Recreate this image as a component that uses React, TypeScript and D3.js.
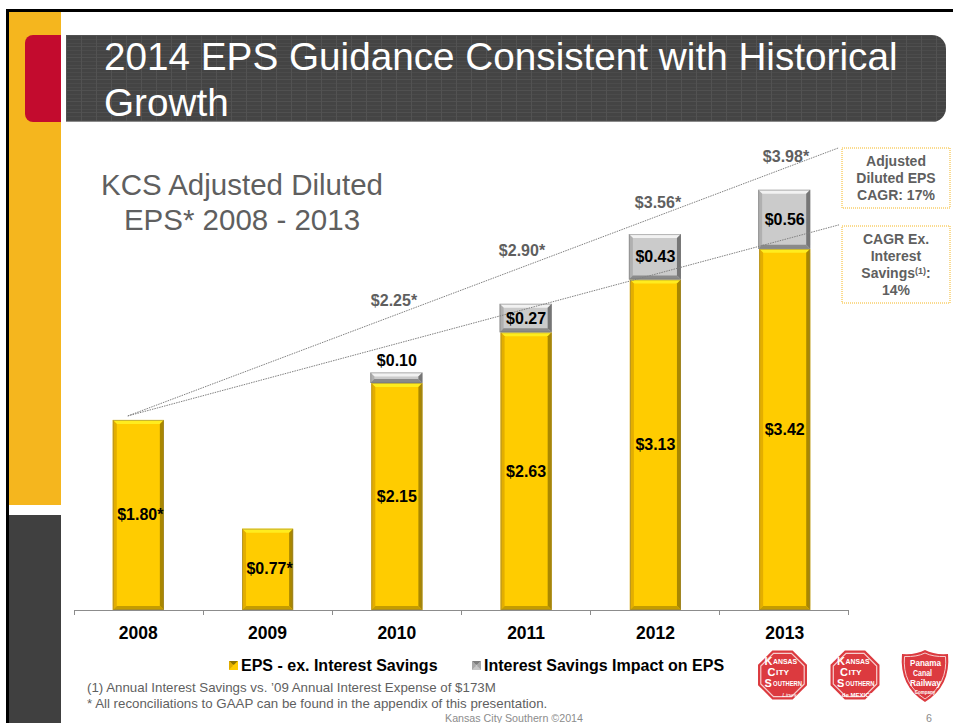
import React from "react";
import * as d3 from "d3";

const years = ["2008", "2009", "2010", "2011", "2012", "2013"];
const epsValues = [1.8, 0.77, 2.15, 2.63, 3.13, 3.42];
const savingsValues = [0, 0, 0.1, 0.27, 0.43, 0.56];
const epsLabels = ["$1.80*", "$0.77*", "$2.15", "$2.63", "$3.13", "$3.42"];
const savingsLabels = ["", "", "$0.10", "$0.27", "$0.43", "$0.56"];
const totalLabels = ["", "", "$2.25*", "$2.90*", "$3.56*", "$3.98*"];
const cagrTotal = [1.8, 3.98];
const cagrExInterest = [1.8, 3.42];

const F = "'Liberation Sans', Arial, sans-serif";
const x = d3.scaleBand<string>().domain(years).range([74, 849]).paddingInner(0.605).paddingOuter(0.3);
const y = d3.scaleLinear().domain([0, 4]).range([610, 187.6]);

function Bevel({ x0, y0, w, h, c, edge }: { x0: number; y0: number; w: number; h: number; c: any; edge?: string }) {
  const b = Math.min(4, h / 2.4);
  const x1 = x0 + w;
  const y1 = y0 + h;
  return (
    <g>
      <rect x={x0} y={y0} width={w} height={h} fill={c.face} />
      <polygon points={`${x0},${y0} ${x1},${y0} ${x1 - b},${y0 + b} ${x0 + b},${y0 + b}`} fill={c.top} />
      <polygon points={`${x0},${y0} ${x0 + b},${y0 + b} ${x0 + b},${y1 - b} ${x0},${y1}`} fill={c.left} />
      <polygon points={`${x1},${y0} ${x1},${y1} ${x1 - b},${y1 - b} ${x1 - b},${y0 + b}`} fill={c.right} />
      <polygon points={`${x0},${y1} ${x1},${y1} ${x1 - b},${y1 - b} ${x0 + b},${y1 - b}`} fill={c.bottom} />
      {edge && <rect x={x0 + 0.5} y={y0 + 0.5} width={w - 1} height={h - 1} fill="none" stroke={edge} strokeWidth={1} />}
    </g>
  );
}

const gold = { face: "#FFCC00", top: "#FFEC1E", left: "#E3AE00", right: "#A98700", bottom: "#C49C00" };
const silver = { face: "#CBCBCB", top: "#F2F2F2", left: "#B0B0B0", right: "#767676", bottom: "#8A8A8A" };

function LogoLine({ lx, ly, cap, rest, len }: { lx: number; ly: number; cap: string; rest: string; len: number }) {
  const cs = 11;
  return (
    <g>
      <text x={lx} y={ly} fontSize={cs}>{cap}</text>
      <text x={lx + cs * 0.78} y={ly - 1} fontSize={6.5} textLength={len} lengthAdjust="spacingAndGlyphs">{rest}</text>
    </g>
  );
}

function Octagon({ cx, bottom, italic }: { cx: number; bottom: string; italic: boolean }) {
  const cy = 675;
  const ring = (r: number) =>
    d3.range(8).map((i) => {
      const a = Math.PI / 8 + (i * Math.PI) / 4;
      return `${cx + r * Math.cos(a)},${cy + r * Math.sin(a)}`;
    }).join(" ");
  return (
    <g fontFamily={F} fontWeight="bold" fill="#fff">
      <polygon points={ring(26.5)} fill="#DC3A3F" />
      <polygon points={ring(23.5)} fill="#DC3A3F" stroke="#F6CFCF" strokeWidth={1.2} />
      <LogoLine lx={cx - 18} ly={665} cap="K" rest="ANSAS" len={24} />
      <LogoLine lx={cx - 15} ly={676} cap="C" rest="ITY" len={13} />
      <LogoLine lx={cx - 18} ly={687} cap="S" rest="OUTHERN" len={29} />
      <text x={cx + (italic ? 7 : 3)} y={696.5} fontSize={6} fontStyle={italic ? "italic" : "normal"} fontWeight={italic ? "normal" : "bold"} textAnchor="middle">{bottom}</text>
    </g>
  );
}

export default function App() {
  const gray = "#5F5F5F";
  const bw = x.bandwidth();
  const start = x("2008")! + bw / 2 - 10.5;
  return (
    <svg width={953} height={723} style={{ position: "fixed", left: 0, top: 0, display: "block" }}>
      <defs>
        <pattern id="tex" width={15} height={11} patternUnits="userSpaceOnUse" x={66} y={35}>
          <rect width={15} height={11} fill="#444" />
          <rect y={0} width={15} height={1} fill="#505050" />
          <rect y={4} width={15} height={1} fill="#4b4b4b" />
          <rect y={8} width={15} height={1} fill="#4b4b4b" />
          <rect x={0} width={1} height={11} fill="#525252" />
        </pattern>
        <clipPath id="titleClip">
          <path d="M66,35 H932 a14,14 0 0 1 14,14 V108 a14,14 0 0 1 -14,14 H66 Z" />
        </clipPath>
      </defs>
      <rect width={953} height={723} fill="#fff" />
      <rect x={6} y={9} width={947} height={3} fill="#000" />
      <rect x={6} y={9} width={3} height={714} fill="#000" />
      <rect x={9} y={12} width={52} height={493} fill="#F5B61E" />
      <rect x={9} y={515} width={52} height={208} fill="#404040" />
      <path d="M61,35 H33 a8,8 0 0 0 -8,8 V114 a8,8 0 0 0 8,8 H61 Z" fill="#C30B2E" />
      <rect x={66} y={35} width={880} height={87} fill="url(#tex)" clipPath="url(#titleClip)" />
      <rect x={66} y={121} width={880} height={1} fill="#8a8a8a" clipPath="url(#titleClip)" />
      <text fontFamily={F} fontSize={38.7} fill="#fff">
        <tspan x={104} y={70}>2014 EPS Guidance Consistent with Historical</tspan>
        <tspan x={104} y={116}>Growth</tspan>
      </text>
      <text fontFamily={F} fontSize={29.5} fill={gray} textAnchor="middle">
        <tspan x={242} y={195}>KCS Adjusted Diluted</tspan>
        <tspan x={242} y={230}>EPS* 2008 - 2013</tspan>
      </text>

      {/* axis */}
      <path d="M74.5,610.5 H848" stroke="#8c8c8c" fill="none" />
      {d3.range(7).map((i) => {
        const tx = 74.5 + i * 129;
        return <line key={i} x1={tx} x2={tx} y1={610} y2={615} stroke="#8c8c8c" />;
      })}
      {years.map((yr) => (
        <text key={yr} x={x(yr)! + bw / 2} y={639} textAnchor="middle" fontFamily={F} fontSize={17.5} fontWeight="bold" fill="#000">{yr}</text>
      ))}

      {/* upper trend line, behind the bars */}
      <line x1={start} y1={y(cagrTotal[0]) - 4} x2={839} y2={y(cagrTotal[1]) - 42} stroke="#808080" strokeWidth={1} strokeDasharray="1.5 1" />

      {/* bars */}
      {years.map((yr, i) => {
        const x0 = x(yr)!;
        const eTop = y(epsValues[i]);
        const sTop = y(epsValues[i] + savingsValues[i]);
        return (
          <g key={yr}>
            <Bevel x0={x0} y0={eTop} w={bw} h={y(0) - eTop} c={gold} edge="rgba(150,130,70,0.55)" />
            {savingsValues[i] > 0 && <Bevel x0={x0 - 1} y0={sTop} w={bw + 1} h={eTop - sTop} c={silver} edge="rgba(120,120,120,0.5)" />}
          </g>
        );
      })}
      {/* lower trend line, over the silver segments */}
      <line x1={start} y1={y(cagrExInterest[0]) - 4} x2={839} y2={y(cagrExInterest[1]) - 24} stroke="#808080" strokeWidth={1} strokeDasharray="1.5 1" />

      {/* labels */}
      <g fontFamily={F} fontWeight="bold" fontSize={16} textAnchor="middle" fill="#000">
        {years.map((yr, i) => {
          const cx = x(yr)! + bw / 2;
          const labelY = i === 0 ? 520 : i === 1 ? 574 : y(epsValues[i] / 2) + 5.5;
          return <text key={yr} x={cx + (i < 2 ? 2 : 0)} y={labelY}>{epsLabels[i]}</text>;
        })}
        {years.map((yr, i) => {
          if (!savingsLabels[i]) return null;
          const cx = x(yr)! + bw / 2;
          const ly = i === 2 ? y(epsValues[i] + savingsValues[i]) - 6 : y(epsValues[i] + savingsValues[i] / 2) + 5.5;
          return <text key={yr} x={cx} y={ly}>{savingsLabels[i]}</text>;
        })}
      </g>
      <g fontFamily={F} fontWeight="bold" fontSize={16} textAnchor="middle" fill={gray}>
        <text x={394} y={306}>{totalLabels[2]}</text>
        <text x={522} y={256}>{totalLabels[3]}</text>
        <text x={658} y={208}>{totalLabels[4]}</text>
        <text x={786} y={162}>{totalLabels[5]}</text>
      </g>

      {/* callouts */}
      <rect x={842} y={148} width={108} height={60} fill="#fff" stroke="#F5B61E" strokeDasharray="1 1" />
      <rect x={842} y={226} width={108} height={77} fill="#fff" stroke="#F5B61E" strokeDasharray="1 1" />
      <g fontFamily={F} fontWeight="bold" fontSize={14} textAnchor="middle" fill={gray}>
        <text x={896} y={166}>Adjusted</text>
        <text x={896} y={183}>Diluted EPS</text>
        <text x={896} y={200}>CAGR: 17%</text>
        <text x={896} y={244}>CAGR Ex.</text>
        <text x={896} y={261}>Interest</text>
        <text x={896} y={278}>Savings<tspan fontSize={9} dy={-4}>(1)</tspan><tspan dy={4}>:</tspan></text>
        <text x={896} y={295}>14%</text>
      </g>

      {/* legend */}
      <Bevel x0={229} y0={661} w={9} h={9} c={{ face: "#FFCC00", top: "#8F7400", left: "#E0AC00", right: "#FFCC00", bottom: "#FFCC00" }} />
      <text x={241} y={671} fontFamily={F} fontWeight="bold" fontSize={16} fill="#000">EPS - ex. Interest Savings</text>
      <Bevel x0={472} y0={661} w={9} h={9} c={{ face: "#C8C8C8", top: "#7E7E7E", left: "#A8A8A8", right: "#A8A8A8", bottom: "#C8C8C8" }} />
      <text x={484} y={671} fontFamily={F} fontWeight="bold" fontSize={16} fill="#000">Interest Savings Impact on EPS</text>

      {/* footnotes */}
      <g fontFamily={F} fontSize={13.3} fill={gray}>
        <text x={87} y={692}>(1) Annual Interest Savings vs. ’09 Annual Interest Expense of $173M</text>
        <text x={87} y={708}>* All reconciliations to GAAP can be found in the appendix of this presentation.</text>
      </g>
      <text x={445} y={722} fontFamily={F} fontSize={10.7} fill="#8c8c8c">Kansas City Southern ©2014</text>
      <text x={926} y={722} fontFamily={F} fontSize={10.7} fill="#8c8c8c">6</text>

      {/* logos */}
      <Octagon cx={782.5} bottom="Lines" italic />
      <Octagon cx={855} bottom="de MEXICO" italic={false} />
      <g fontFamily={F} fontWeight="bold" fill="#fff">
        <path d="M902,654 Q916,655 925,650 Q934,655 948,654 Q951,686 925,702 Q899,686 902,654 Z" fill="#DC3A3F" />
        <path d="M904.5,656.5 Q917,657 925,653 Q933,657 945.5,656.5 Q948,684 925,699 Q902,684 904.5,656.5 Z" fill="none" stroke="#F6CFCF" strokeWidth={1} />
        <text x={910} y={666} fontSize={9} textLength={31} lengthAdjust="spacingAndGlyphs">Panama</text>
        <text x={913} y={676} fontSize={9} textLength={19} lengthAdjust="spacingAndGlyphs">Canal</text>
        <text x={910} y={686} fontSize={9} textLength={31} lengthAdjust="spacingAndGlyphs">Railway</text>
        <text x={925} y={694} fontSize={4.5} textAnchor="middle">Company</text>
      </g>
    </svg>
  );
}
